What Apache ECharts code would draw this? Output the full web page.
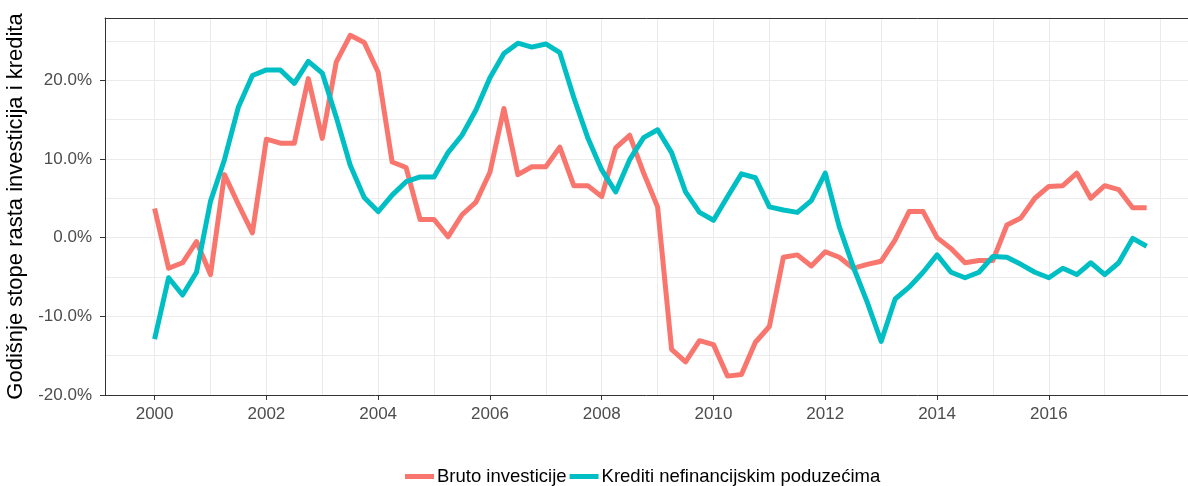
<!DOCTYPE html>
<html>
<head>
<meta charset="utf-8">
<script src="https://cdn.jsdelivr.net/npm/echarts@6/dist/echarts.min.js"></script>
<style>
  html, body { margin: 0; padding: 0; background: #fff; }
  #grafikon { width: 1188px; height: 486px; }
</style>
</head>
<body>
<div id="grafikon"></div>
<script>
// godisnje stope rasta, kvartalno od 2000Q1 do 2017Q4
const brutoInvesticije = [
  3.7, -3.9, -3.2, -0.5,
  -4.7, 8.0, 4.2, 0.6,
  12.5, 12.0, 12.0, 20.2,
  12.6, 22.3, 25.7, 24.8,
  21.0, 9.6, 8.9, 2.3,
  2.3, 0.1, 2.9, 4.5,
  8.3, 16.4, 8.0, 9.0,
  9.0, 11.5, 6.6, 6.6,
  5.2, 11.4, 13.0, 8.2,
  3.9, -14.2, -15.8, -13.1,
  -13.6, -17.6, -17.4, -13.3,
  -11.3, -2.5, -2.2, -3.6,
  -1.8, -2.5, -3.9, -3.4,
  -3.0, -0.3, 3.3, 3.3,
  0.0, -1.4, -3.2, -2.9,
  -2.9, 1.6, 2.5, 5.0,
  6.5, 6.6, 8.2, 5.0,
  6.6, 6.1, 3.8, 3.8
];

const krediti = [
  -12.9, -5.1, -7.3, -4.4,
  4.6, 9.9, 16.6, 20.6,
  21.3, 21.3, 19.6, 22.4,
  20.9, 15.3, 9.2, 5.1,
  3.3, 5.4, 7.1, 7.7,
  7.7, 10.8, 13.0, 16.2,
  20.3, 23.4, 24.7, 24.2,
  24.6, 23.5, 17.8, 12.7,
  8.6, 5.8, 9.9, 12.7,
  13.7, 10.8, 5.8, 3.2,
  2.2, 5.2, 8.1, 7.6,
  3.9, 3.5, 3.2, 4.7,
  8.2, 1.4, -3.7, -8.2,
  -13.2, -7.8, -6.3, -4.4,
  -2.2, -4.4, -5.1, -4.4,
  -2.4, -2.5, -3.4, -4.4,
  -5.1, -3.9, -4.7, -3.2,
  -4.7, -3.2, -0.1, -1.1
];

const kvartali = brutoInvesticije.map((_, i) => 2000 + i / 4);
const godineOznake = [2000, 2002, 2004, 2006, 2008, 2010, 2012, 2014, 2016];
const postociOznake = [-20, -10, 0, 10, 20];

// desni rub slike reze panel
const xMin = 1999.1125;
const xMax = 2018.49;
const yMin = -20;
const yMax = 27.9;

const tekst = '#4D4D4D';
const linija = '#333333';
const mreza = '#EBEBEB';

const grafikon = echarts.init(document.getElementById('grafikon'));

const opcije = {
  backgroundColor: '#fff',
  animation: false,
  textStyle: { fontFamily: 'Liberation Sans, Arial, sans-serif' },
  grid: { left: 105, top: 18, right: 0, bottom: 91, outerBoundsMode: 'none', containLabel: false },
  legend: {
    left: 405,
    bottom: 0,
    padding: 0,
    itemGap: 3,
    itemWidth: 29,
    itemHeight: 5,
    icon: 'rect',
    textStyle: { color: '#000', fontSize: 18.5, padding: [0, 0, 0, -2] },
    data: ['Bruto investicije', 'Krediti nefinancijskim poduzećima']
  },
  xAxis: [
    {
      // mreza po godinama + gornji rub
      type: 'value', min: xMin, max: xMax, minInterval: 1, maxInterval: 1, position: 'top',
      axisLine: { show: true, onZero: false, lineStyle: { color: linija, width: 1 } },
      axisTick: { show: false }, axisLabel: { show: false },
      splitLine: { show: true, lineStyle: { color: mreza, width: 1 } }
    },
    {
      type: 'value', min: xMin, max: xMax, position: 'bottom',
      axisLine: { show: true, onZero: false, lineStyle: { color: linija, width: 1 } },
      axisTick: { show: true, length: 5, lineStyle: { color: linija }, customValues: godineOznake },
      axisLabel: { show: true, color: tekst, fontSize: 17, margin: 11, customValues: godineOznake,
        formatter: v => String(v) },
      splitLine: { show: false }
    }
  ],
  yAxis: [
    {
      type: 'value', min: yMin, max: yMax, minInterval: 5, maxInterval: 5,
      axisLine: { show: false }, axisTick: { show: false }, axisLabel: { show: false },
      splitLine: { show: true, lineStyle: { color: mreza, width: 1 } }
    },
    {
      type: 'value', min: yMin, max: yMax, position: 'left',
      name: 'Godišnje stope rasta investicija i kredita',
      nameLocation: 'middle',
      nameGap: 70,
      nameTextStyle: { color: '#000', fontSize: 22 },
      axisLine: { show: true, onZero: false, lineStyle: { color: linija, width: 1 } },
      axisTick: { show: true, length: 5, lineStyle: { color: linija }, customValues: postociOznake },
      axisLabel: { show: true, color: tekst, fontSize: 17, margin: 13, customValues: postociOznake,
        formatter: v => v.toFixed(1) + '%' },
      splitLine: { show: false }
    }
  ],
  series: [
    {
      name: 'Bruto investicije',
      type: 'line',
      xAxisIndex: 1, yAxisIndex: 1,
      data: kvartali.map((x, i) => [x, brutoInvesticije[i]]),
      showSymbol: false,
      color: '#F8766D',
      lineStyle: { width: 5, color: '#F8766D', join: 'round' }
    },
    {
      name: 'Krediti nefinancijskim poduzećima',
      type: 'line',
      xAxisIndex: 1, yAxisIndex: 1,
      data: kvartali.map((x, i) => [x, krediti[i]]),
      showSymbol: false,
      color: '#00BFC4',
      lineStyle: { width: 5, color: '#00BFC4', join: 'round' }
    }
  ]
};

grafikon.setOption(opcije);
</script>
</body>
</html>
